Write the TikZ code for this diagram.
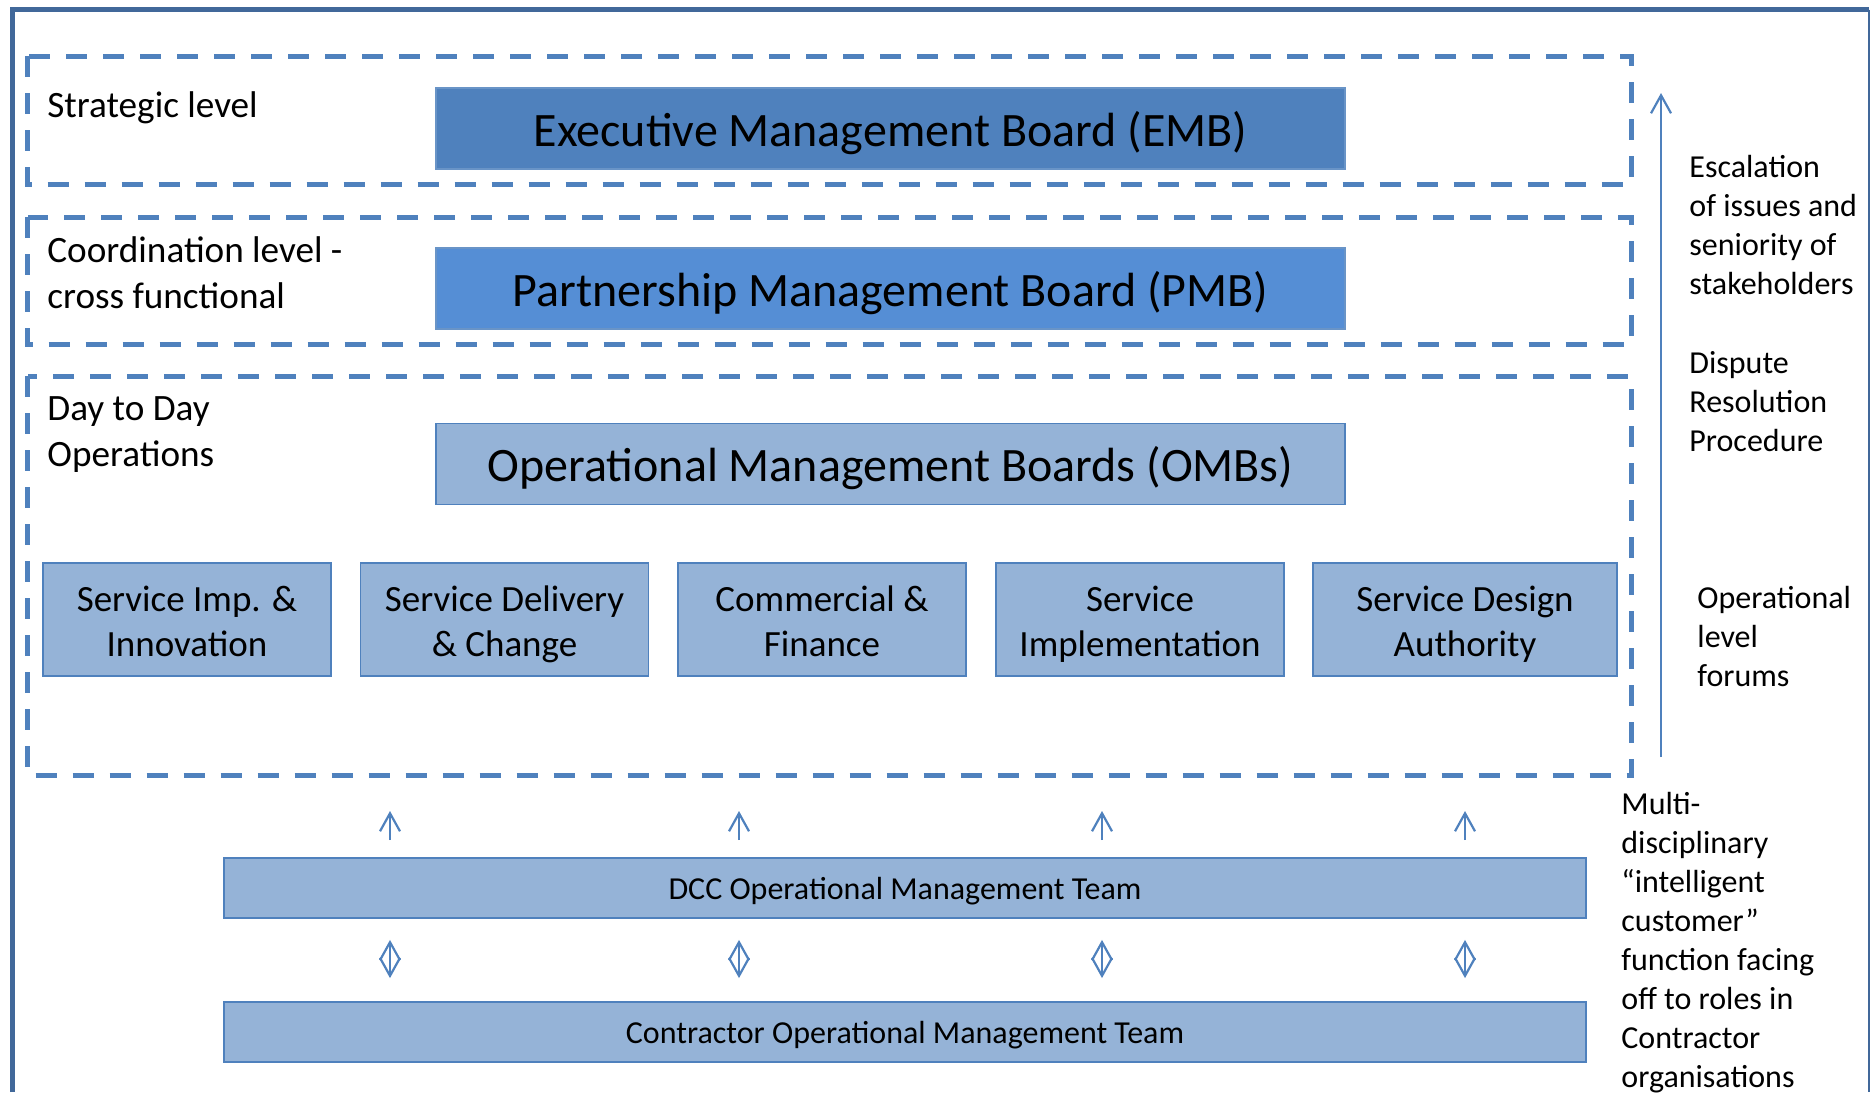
\documentclass[tikz,border=0pt]{standalone}
\usepackage{fontspec}
\setmainfont{Carlito}
\usetikzlibrary{arrows.meta}
\definecolor{frameblue}{RGB}{65,104,154}
\definecolor{dashblue}{RGB}{79,129,189}
\definecolor{embblue}{RGB}{79,129,189}
\definecolor{pmbblue}{RGB}{85,142,213}
\definecolor{paleblue}{RGB}{149,179,215}
\newcommand\boardfont{\fontsize{24}{29}\selectfont}
\newcommand\forumfont{\fontsize{18.5}{22.7}\selectfont}
\newcommand\levelfont{\fontsize{18.6}{22.8}\selectfont}
\newcommand\notefont{\fontsize{16}{19.5}\selectfont}
\begin{document}
\begin{tikzpicture}
  [x=0.5pt,y=-0.5pt,
   levelbox/.style={draw=dashblue,line width=2.5pt,dash pattern=on 10.5pt off 8pt},
   board/.style={draw=embblue!85!white,line width=0.9pt,minimum width=454.5pt,minimum height=40.5pt,inner sep=0pt,text depth=0pt,font=\boardfont},
   forum/.style={draw=dashblue,line width=0.9pt,fill=paleblue,minimum width=144pt,minimum height=56.5pt,inner sep=0pt,text height=42.4pt,text depth=5pt,align=center,font=\forumfont},
   team/.style={draw=dashblue,line width=0.9pt,fill=paleblue,minimum width=681pt,minimum height=30pt,inner sep=0pt,text depth=0pt,font=\notefont},
   levelnote/.style={anchor=base west,align=left,inner sep=0pt,font=\levelfont},
   sidenote/.style={anchor=base west,align=left,inner sep=0pt,font=\notefont},
   uparrow/.style={draw=dashblue,line width=1.1pt,-{Straight Barb[length=9pt,width=10pt]}},
   twoway/.style={draw=dashblue,line width=1.1pt,{Straight Barb[length=9pt,width=10pt]}-{Straight Barb[length=9pt,width=10pt]}}]
  \useasboundingbox (0,0) rectangle (1872,1092);
  % outer frame
  \draw[frameblue,line width=2.5pt] (12,1092) -- (12,9.5) -- (1869,9.5);
  \draw[frameblue,line width=1.2pt] (1869,9.5) -- (1869,1092);
  % levels
  \draw[levelbox] (27.5,56) rectangle (1631,184);
  \draw[levelbox] (27.5,217) rectangle (1631,344);
  \draw[levelbox] (27.5,376) rectangle (1631,775);
  \node[levelnote] (strat) at (47,117) {Strategic level};
  \node[levelnote] (coord) at (47,308) {Coordination level -\\cross functional};
  \node[levelnote] (dtd) at (47,466) {Day to Day\\Operations};
  % boards
  \node[board,fill=embblue] (emb) at (890.5,128.5) {Executive Management Board (EMB)};
  \node[board,fill=pmbblue] (pmb) at (890.5,288.5) {Partnership Management Board (PMB)};
  \node[board,fill=paleblue,draw=dashblue] (omb) at (890.5,464) {Operational Management Boards (OMBs)};
  \node[forum] (sii) at (187,619.5) {Service Imp. \&\\Innovation};
  \node[forum] (sdc) at (504.5,619.5) {Service Delivery\\\& Change};
  \node[forum] (cf) at (822,619.5) {Commercial \&\\Finance};
  \node[forum] (si) at (1140,619.5) {Service\\Implementation};
  \node[forum,minimum width=152pt] (sda) at (1465,619.5) {Service Design\\Authority};
  % teams
  \node[team] (dcc) at (905,888) {DCC Operational Management Team};
  \node[team] (cot) at (905,1032) {Contractor Operational Management Team};
  \coordinate (a1) at (390,811);
  \coordinate (a2) at (739,811);
  \coordinate (a3) at (1102,811);
  \coordinate (a4) at (1465,811);
  \foreach \to in {a1,a2,a3,a4}
    {\draw[uparrow,shorten <=8.5pt] (dcc.north -| \to) -- (\to);
     \draw[twoway,shorten <=10.5pt,shorten >=11.5pt] (dcc.south -| \to) -- (cot.north -| \to);}
  % escalation
  \coordinate (esclow) at (1661,757);
  \coordinate (eschigh) at (1661,93);
  \draw[uparrow] (esclow) -- (eschigh);
  \node[sidenote] (escal) at (1689,294) {Escalation\\of issues and\\seniority of\\stakeholders};
  \node[sidenote] (disp) at (1689,451) {Dispute\\Resolution\\Procedure};
  \node[sidenote] (opfor) at (1697,686) {Operational\\level\\forums};
  \node[sidenote] (multi) at (1621,1087) {Multi-\\disciplinary\\“intelligent\\customer”\\function facing\\off to roles in\\Contractor\\organisations};
\end{tikzpicture}
\end{document}
